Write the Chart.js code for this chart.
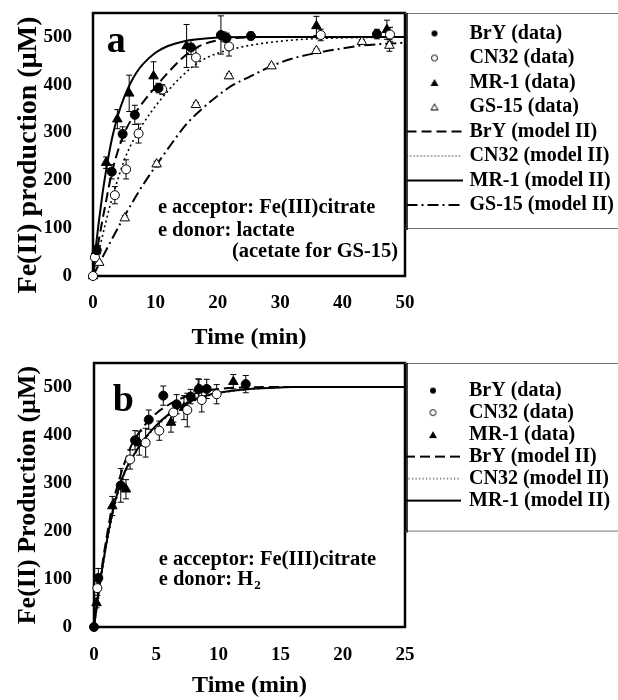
<!DOCTYPE html>
<html><head><meta charset="utf-8">
<script src="https://cdn.jsdelivr.net/npm/chart.js@4/dist/chart.umd.min.js"></script>
<style>
html,body{margin:0;padding:0;background:#fff;width:618px;height:700px;overflow:hidden}
#wa{position:absolute;left:0;top:0;width:618px;height:350px}
#wb{position:absolute;left:0;top:350px;width:618px;height:350px}
</style></head><body>
<div id="wa"><canvas id="ca" width="618" height="350"></canvas></div>
<div id="wb"><canvas id="cb" width="618" height="350"></canvas></div>
<script>
const FONT = '"Liberation Serif", "Times New Roman", serif';

// ---------- Panel a : data ----------
const aTicksX = [0, 10, 20, 30, 40, 50];
const aBrYT  = [0.6, 3.0, 4.75, 6.7, 10.5, 15.7, 20.5, 21.4, 25.3, 45.5];
const aBrYV  = [54, 218, 297, 337, 393, 478, 504, 498, 502, 506];
const aBrYE  = [10, 15, 15, 20, 10, 15, 40, 10, 8, 10];
const aCN32T = [0, 0.3, 3.5, 5.3, 7.3, 11.1, 16.5, 21.8, 36.5, 47.6];
const aCN32V = [0, 39, 169, 223, 298, 390, 457, 480, 504, 505];
const aCN32E = [0, 5, 18, 20, 20, 10, 20, 20, 12, 15];
const aMR1T  = [0.5, 2.1, 3.9, 5.8, 9.7, 15.0, 21.0, 35.8, 47.1];
const aMR1V  = [52, 237, 328, 382, 418, 481, 500, 523, 515];
const aMR1E  = [5, 12, 20, 38, 30, 45, 10, 20, 20];
const aGS15T = [0, 1.0, 5.1, 10.2, 16.5, 21.8, 28.6, 35.8, 43.1, 47.5];
const aGS15V = [0, 28, 121, 234, 358, 418, 439, 471, 490, 482];
const aGS15E = [0, 3, 5, 6, 5, 5, 4, 4, 4, 12];
// Panel a : model II curves
const aMBrYT  = [0, 1, 2, 3, 4, 5, 6, 7, 8, 10, 12, 14, 16, 18, 20, 22, 25, 30, 50];
const aMBrYV  = [0, 80, 150, 215, 262, 298, 324, 345, 363, 395, 425, 452, 473, 486, 493, 497, 499, 500, 500];
const aMCN32T = [0, 1, 2, 3, 4, 5, 6, 7, 8, 10, 12, 14, 16, 18, 20, 22.5, 25, 30, 35, 40, 50];
const aMCN32V = [0, 55, 110, 160, 203, 242, 272, 296, 318, 355, 387, 415, 438, 455, 466, 475, 482, 491, 496, 498, 500];
const aMMR1T  = [0, 0.5, 1, 1.5, 2, 3, 4, 5, 6, 7, 8, 10, 12, 14, 16, 20, 25, 50];
const aMMR1V  = [0, 65, 120, 170, 213, 285, 336, 374, 403, 426, 443, 467, 481, 489, 494, 499, 500, 500];
const aMGS15T = [0, 2.5, 5, 7.5, 10, 12.5, 15, 17.5, 20, 22.5, 25, 28.6, 32, 36, 40, 43, 46, 50];
const aMGS15V = [0, 64, 124, 180, 229, 275, 318, 350, 377, 400, 416, 439, 455, 467, 476, 482, 485, 488];

// ---------- Panel b : data ----------
const bTicksX = [0, 5, 10, 15, 20, 25];
const bBrYT  = [0, 0.35, 2.15, 3.3, 4.4, 5.57, 6.64, 7.77, 8.44, 9.06, 12.2];
const bBrYV  = [0, 102, 295, 389, 432, 482, 464, 480, 496, 496, 506];
const bBrYE  = [0, 20, 35, 20, 20, 20, 20, 15, 20, 20, 18];
const bCN32T = [0.27, 2.9, 4.15, 5.25, 6.38, 7.5, 8.66, 9.86];
const bCN32V = [81, 349, 384, 409, 447, 452, 473, 485];
const bCN32E = [15, 20, 30, 20, 20, 35, 25, 20];
const bMR1T  = [0.2, 1.47, 2.57, 3.64, 6.19, 7.23, 8.38, 11.2];
const bMR1V  = [50, 252, 287, 383, 426, 457, 497, 511];
const bMR1E  = [10, 20, 20, 25, 20, 25, 20, 15];
const bMBrYT  = [0, 0.5, 1, 1.5, 2, 2.5, 3, 4, 5, 6, 7, 8, 9, 10, 12, 14, 25];
const bMBrYV  = [0, 100, 185, 255, 305, 345, 378, 418, 445, 463, 476, 486, 492, 496, 499, 500, 500];
const bMCN32T = [0, 0.5, 1, 1.5, 2, 2.5, 3, 4, 5, 6, 7, 8, 9, 10, 12, 14, 16, 25];
const bMCN32V = [0, 90, 170, 235, 285, 322, 348, 388, 418, 441, 458, 471, 480, 487, 494, 498, 500, 500];
const bMMR1T  = [0, 0.5, 1, 1.5, 2, 2.5, 3, 4, 5, 6, 7, 8, 9, 10, 12, 14, 16, 25];
const bMMR1V  = [0, 95, 175, 240, 290, 325, 350, 390, 420, 443, 460, 473, 482, 488, 495, 498, 500, 500];

const yTicks = [0, 100, 200, 300, 400, 500];

// ---------- helpers ----------
const pts = (t, v) => t.map((x, i) => ({x: x, y: v[i]}));
function mk(w, h, draw) { const c = document.createElement('canvas'); c.width = w; c.height = h; const g = c.getContext('2d'); draw(g); return c; }
const imgDot  = mk(8, 8, g => { g.fillStyle = '#000'; g.beginPath(); g.arc(4, 4, 3, 0, 7); g.fill(); });
const imgCirc = mk(9, 9, g => { g.strokeStyle = '#000'; g.lineWidth = 1; g.beginPath(); g.arc(4.5, 4.5, 3, 0, 7); g.stroke(); });
const imgTri  = mk(10, 9, g => { g.fillStyle = '#000'; g.beginPath(); g.moveTo(5, 1); g.lineTo(9, 8); g.lineTo(1, 8); g.closePath(); g.fill(); });
const imgTriO = mk(10, 9, g => { g.strokeStyle = '#000'; g.lineWidth = 1; g.beginPath(); g.moveTo(5, 1.5); g.lineTo(8.5, 7.5); g.lineTo(1.5, 7.5); g.closePath(); g.stroke(); });
const lineImg = (dash, lw) => mk(56, 4, g => { g.strokeStyle = '#000'; g.lineWidth = lw; g.setLineDash(dash); g.beginPath(); g.moveTo(0, 2); g.lineTo(56, 2); g.stroke(); });

const DASH = [10, 5], DOT = [2, 3], DASHDOT = [11, 4, 2, 4];

function dataSet(label, t, v, e, style, filled, img) {
  return {label, data: pts(t, v), errors: e, showLine: false, pointStyle: style,
    pointRadius: style === 'triangle' ? 5.5 : 4.5, pointBorderWidth: 1,
    backgroundColor: filled ? '#000' : '#fff', borderColor: '#000', clip: false, legendImg: img};
}
function modelSet(label, t, v, dash, lw, img) {
  return {label, data: pts(t, v), showLine: true, pointRadius: 0, borderColor: '#000',
    backgroundColor: '#000', borderWidth: lw, borderDash: dash, cubicInterpolationMode: 'monotone',
    clip: false, legendImg: img};
}

const framePlugin = {id: 'frame', beforeDatasetsDraw(chart) {
  const a = chart.chartArea, ctx = chart.ctx;
  ctx.save(); ctx.strokeStyle = '#000'; ctx.lineWidth = 2.5;
  ctx.strokeRect(a.left, a.top, a.right - a.left, a.bottom - a.top);
  ctx.restore();
}};
const errPlugin = {id: 'errbars', beforeDatasetsDraw(chart) {
  const ctx = chart.ctx, ys = chart.scales.y;
  ctx.save(); ctx.strokeStyle = '#000'; ctx.lineWidth = 1;
  chart.data.datasets.forEach((ds, i) => {
    if (!ds.errors) return;
    const meta = chart.getDatasetMeta(i);
    ds.data.forEach((p, j) => {
      const e = ds.errors[j]; if (!e) return;
      const x = meta.data[j].x;
      const y1 = ys.getPixelForValue(p.y + e), y2 = ys.getPixelForValue(p.y - e);
      ctx.beginPath();
      ctx.moveTo(x, y1); ctx.lineTo(x, y2);
      ctx.moveTo(x - 3, y1); ctx.lineTo(x + 3, y1);
      ctx.moveTo(x - 3, y2); ctx.lineTo(x + 3, y2);
      ctx.stroke();
    });
  });
  ctx.restore();
}};
function notesPlugin(items) {
  return {id: 'notes', afterDatasetsDraw(chart) {
    const ctx = chart.ctx, xs = chart.scales.x, ys = chart.scales.y;
    ctx.save(); ctx.fillStyle = '#000';
    for (const n of items) {
      ctx.font = 'bold ' + n.size + 'px ' + FONT;
      ctx.textAlign = n.align || 'left';
      ctx.textBaseline = n.base || 'middle';
      const px = xs.getPixelForValue(n.x), py = ys.getPixelForValue(n.y);
      ctx.fillText(n.text, px, py);
      if (n.sub) {
        const w = ctx.measureText(n.text).width;
        ctx.font = 'bold ' + Math.round(n.size * 0.62) + 'px ' + FONT;
        ctx.textAlign = 'left';
        ctx.fillText(n.sub, px + w + 1, py + 6);
      }
    }
    ctx.restore();
  }};
}
function legendFrame(bottomGap) {
  return {id: 'legframe', afterDraw(chart) {
    const lg = chart.legend, ctx = chart.ctx;
    const hb = lg.legendHitBoxes[lg.legendHitBoxes.length - 1];
    const bottom = hb.top + hb.height + bottomGap;
    const L = chart.chartArea.right, T = lg.top;
    ctx.save();
    ctx.strokeStyle = '#777'; ctx.lineWidth = 1;
    ctx.beginPath(); ctx.moveTo(L, T + 0.5); ctx.lineTo(618, T + 0.5);
    ctx.moveTo(L, bottom + 0.5); ctx.lineTo(618, bottom + 0.5); ctx.stroke();
    ctx.strokeStyle = '#000'; ctx.lineWidth = 1.5;
    ctx.beginPath(); ctx.moveTo(L + 2, T); ctx.lineTo(L + 2, bottom + 2); ctx.stroke();
    ctx.restore();
  }};
}
function genLabels(chart) {
  return chart.data.datasets.map((ds, i) => ({text: ds.label, pointStyle: ds.legendImg, datasetIndex: i,
    hidden: false, lineWidth: 0, strokeStyle: '#000', fillStyle: '#000', fontColor: '#000'}));
}

function build(canvas, datasets, cfg) {
  const tickFont = {family: FONT, size: 19, weight: 'bold'};
  return new Chart(canvas, {
    type: 'scatter',
    data: {datasets},
    options: {
      responsive: false, animation: false, devicePixelRatio: 1,
      layout: {padding: {top: 13, left: 0, right: 0, bottom: 0}},
      plugins: {
        tooltip: {enabled: false},
        legend: {position: 'right', align: 'start', maxWidth: 213,
          title: {display: true, text: '', padding: 0, font: {size: cfg.legTitle}},
          labels: {usePointStyle: true, pointStyleWidth: cfg.boxW, padding: cfg.legPad, color: '#000',
            font: {family: FONT, size: 20, weight: 'bold'}, generateLabels: genLabels}}
      },
      scales: {
        x: {type: 'linear', min: 0, max: cfg.xMax,
          grid: {display: false}, border: {display: false},
          afterBuildTicks: s => { s.ticks = cfg.xTicks.map(v => ({value: v})); },
          ticks: {padding: cfg.xPad, color: '#000', font: tickFont, maxRotation: 0},
          title: {display: true, text: 'Time (min)', color: '#000',
            font: {family: FONT, size: 24, weight: 'bold', lineHeight: 1}, padding: {top: 0, bottom: cfg.xTitlePad}},
          afterFit: s => { s.height = cfg.xH; s.paddingLeft = 0; s.paddingRight = 0; }},
        y: {type: 'linear', min: 0, max: 550,
          grid: {display: false}, border: {display: false},
          afterBuildTicks: s => { s.ticks = yTicks.map(v => ({value: v})); },
          ticks: {padding: cfg.yPad, color: '#000', font: tickFont},
          title: {display: true, text: cfg.yTitle, color: '#000',
            font: {family: FONT, size: cfg.yTitleSize, weight: 'bold', lineHeight: 1}, padding: {top: 15, bottom: 0}},
          afterFit: s => { s.width = cfg.yW; s.paddingTop = 0; s.paddingBottom = 0; }}
      }
    },
    plugins: [framePlugin, errPlugin, notesPlugin(cfg.notes), legendFrame(cfg.legBottom)]
  });
}

build(document.getElementById('ca'), [
  dataSet('BrY (data)', aBrYT, aBrYV, aBrYE, 'circle', true, imgDot),
  dataSet('CN32 (data)', aCN32T, aCN32V, aCN32E, 'circle', false, imgCirc),
  dataSet('MR-1 (data)', aMR1T, aMR1V, aMR1E, 'triangle', true, imgTri),
  dataSet('GS-15 (data)', aGS15T, aGS15V, aGS15E, 'triangle', false, imgTriO),
  modelSet('BrY (model II)', aMBrYT, aMBrYV, DASH, 2, lineImg(DASH, 2)),
  modelSet('CN32 (model II)', aMCN32T, aMCN32V, DOT, 1.6, lineImg([1.2, 2.3], 1)),
  modelSet('MR-1 (model II)', aMMR1T, aMMR1V, [], 2, lineImg([], 2)),
  modelSet('GS-15 (model II)', aMGS15T, aMGS15V, DASHDOT, 2, lineImg(DASHDOT, 2))
], {xMax: 50, xTicks: aTicksX, xH: 74, yW: 93, yPad: 13, xPad: 8, xTitlePad: 0.5,
    yTitle: 'Fe(II) production (µM)   ', yTitleSize: 28, legTitle: 5, legPad: 4.5, boxW: 50, legBottom: 13,
    notes: [
      {text: 'a', x: 2.2, y: 469, size: 38, base: 'alphabetic'},
      {text: 'e acceptor: Fe(III)citrate', x: 10.4, y: 142, size: 20.5},
      {text: 'e donor: lactate', x: 10.4, y: 94, size: 20.5},
      {text: '(acetate for GS-15)', x: 48.9, y: 50, size: 20.5, align: 'right'}
    ]});

build(document.getElementById('cb'), [
  dataSet('BrY (data)', bBrYT, bBrYV, bBrYE, 'circle', true, imgDot),
  dataSet('CN32 (data)', bCN32T, bCN32V, bCN32E, 'circle', false, imgCirc),
  dataSet('MR-1 (data)', bMR1T, bMR1V, bMR1E, 'triangle', true, imgTri),
  modelSet('BrY (model II)', bMBrYT, bMBrYV, DASH, 2, lineImg(DASH, 2)),
  modelSet('CN32 (model II)', bMCN32T, bMCN32V, DOT, 1.6, lineImg([1.2, 2.3], 1)),
  modelSet('MR-1 (model II)', bMMR1T, bMMR1V, [], 2, lineImg([], 2))
], {xMax: 25, xTicks: bTicksX, xH: 73, yW: 94, yPad: 14, xPad: 9, xTitlePad: 2.5,
    yTitle: 'Fe(II) Production (µM)', yTitleSize: 26, legTitle: 13, legPad: 2, boxW: 52, legBottom: 20,
    notes: [
      {text: 'b', x: 1.5, y: 450, size: 38, base: 'alphabetic'},
      {text: 'e acceptor: Fe(III)citrate', x: 5.2, y: 140, size: 20.5},
      {text: 'e donor: H', x: 5.2, y: 98, size: 20.5, sub: '2'}
    ]});
</script>
</body></html>
